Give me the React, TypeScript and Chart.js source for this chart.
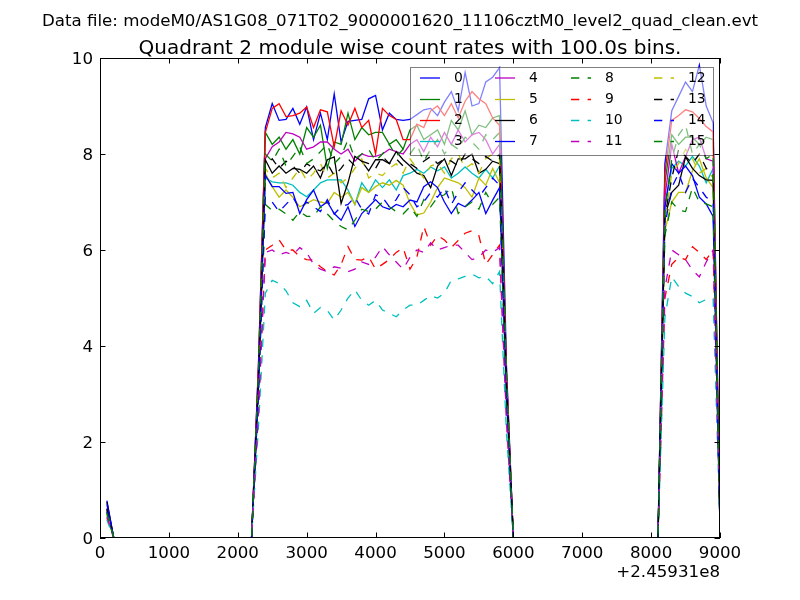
import React, { useEffect, useRef } from "react";
import { Chart, registerables } from "chart.js";

Chart.register(...registerables);

const SUPTITLE = "Data file: modeM0/AS1G08_071T02_9000001620_11106cztM0_level2_quad_clean.evt";
const TITLE = "Quadrant 2 module wise count rates with 100.0s bins.";
const OFFSET_TEXT = "+2.45931e8";

// bin times (s), relative to offset 2.45931e8
const timeBins = [
  100, 200, 300, 400, 500, 600, 700, 800, 900, 1000,
  1100, 1200, 1300, 1400, 1500, 1600, 1700, 1800, 1900, 2000,
  2100, 2200, 2300, 2400, 2500, 2600, 2700, 2800, 2900, 3000,
  3100, 3200, 3300, 3400, 3500, 3600, 3700, 3800, 3900, 4000,
  4100, 4200, 4300, 4400, 4500, 4600, 4700, 4800, 4900, 5000,
  5100, 5200, 5300, 5400, 5500, 5600, 5700, 5800, 5900, 6000,
  6100, 6200, 6300, 6400, 6500, 6600, 6700, 6800, 6900, 7000,
  7100, 7200, 7300, 7400, 7500, 7600, 7700, 7800, 7900, 8000,
  8100, 8200, 8300, 8400, 8500, 8600, 8700, 8800, 8900, 9000,
];

const moduleLabels = ["0", "1", "2", "3", "4", "5", "6", "7", "8", "9", "10", "11", "12", "13", "14", "15"];

const module0 = [0.78, 0,0,0,0,0,0,0, 0,0,0,0,0,0,0, 0,0,0,0,0,0,0, 3.6,
  8.55, 9.05, 8.7, 8.72, 8.95, 8.62, 8.98, 8.3, 8.85, 8.3, 9.25, 8.25, 8.68, 8.7, 8.72, 9.15, 9.22, 8.5, 8.85, 8.72, 8.7, 8.72, 8.82, 8.92, 8.95, 8.8, 9.08, 9.3, 8.9, 9.7, 9.0, 9.05, 9.5, 9.6, 9.8,
  3.6, 0,0,0,0,0,0,0, 0,0,0,0,0,0,0, 0,0,0,0,0,0,0, 0,
  7.8, 8.9, 9.2, 9.5, 9.3, 9.85, 9.0, 8.65, 0.3];
const module1 = [0.6, 0,0,0,0,0,0,0, 0,0,0,0,0,0,0, 0,0,0,0,0,0,0, 3.5,
  8.45, 8.2, 8.35, 8.1, 8.3, 8.0, 8.55, 8.35, 8.6, 7.7, 8.25, 8.2, 8.85, 8.3, 8.55, 8.4, 8.45, 8.45, 8.2, 8.3, 8.1, 8.5, 8.6, 8.3, 8.4, 8.5, 8.2, 8.7, 8.5, 8.9, 8.4, 8.6, 8.55, 8.75, 8.8,
  3.4, 0,0,0,0,0,0,0, 0,0,0,0,0,0,0, 0,0,0,0,0,0,0, 0,
  7.4, 8.4, 8.2, 8.35, 8.35, 8.2, 8.35, 8.3, 0.25];
const module2 = [0.55, 0,0,0,0,0,0,0, 0,0,0,0,0,0,0, 0,0,0,0,0,0,0, 3.6,
  8.45, 8.95, 9.05, 8.78, 8.8, 8.85, 8.98, 8.55, 8.92, 8.88, 8.15, 8.9, 8.6, 8.95, 8.55, 8.7, 8.0, 8.95, 8.8, 8.72, 8.3, 8.3, 8.62, 8.55, 8.9, 9.0, 8.8, 9.05, 8.75, 9.1, 9.3, 9.15, 9.05, 8.75, 8.6,
  3.5, 0,0,0,0,0,0,0, 0,0,0,0,0,0,0, 0,0,0,0,0,0,0, 0,
  7.6, 8.7, 8.8, 8.92, 8.88, 8.74, 8.57, 8.46, 0.35];
const module3 = [0.5, 0,0,0,0,0,0,0, 0,0,0,0,0,0,0, 0,0,0,0,0,0,0, 3.2,
  7.5, 7.42, 7.4, 7.4, 7.35, 7.2, 7.11, 7.25, 7.4, 7.46, 7.46, 7.46, 7.25, 6.95, 7.4, 7.2, 7.46, 7.3, 7.46, 7.25, 7.55, 7.6, 7.68, 7.6, 7.73, 7.65, 7.73, 7.5, 7.6, 7.73, 7.6, 7.5, 7.68, 7.5, 7.75,
  3.1, 0,0,0,0,0,0,0, 0,0,0,0,0,0,0, 0,0,0,0,0,0,0, 0,
  6.9, 7.7, 7.85, 7.75, 7.95, 7.75, 7.4, 7.7, 0.2];
const module4 = [0.62, 0,0,0,0,0,0,0, 0,0,0,0,0,0,0, 0,0,0,0,0,0,0, 3.4,
  7.9, 8.15, 8.25, 8.45, 8.42, 8.35, 8.1, 8.15, 8.25, 8.25, 8.1, 8.0, 8.1, 7.85, 8.0, 7.95, 7.95, 8.0, 8.1, 8.05, 8.0, 8.2, 8.3, 8.05, 8.35, 8.15, 8.45, 8.2, 8.5, 8.25, 8.4, 8.45, 8.3, 8.0, 8.2,
  3.4, 0,0,0,0,0,0,0, 0,0,0,0,0,0,0, 0,0,0,0,0,0,0, 0,
  7.1, 8.2, 7.6, 7.95, 8.3, 8.35, 7.9, 7.85, 0.3];
const module5 = [0.5, 0,0,0,0,0,0,0, 0,0,0,0,0,0,0, 0,0,0,0,0,0,0, 3.1,
  7.6, 7.32, 7.1, 7.25, 7.1, 6.9, 6.97, 7.05, 7.0, 6.97, 7.2, 7.1, 7.2, 6.95, 7.3, 7.2, 7.32, 7.4, 7.35, 7.45, 7.35, 6.97, 6.73, 6.77, 7.0, 7.3, 7.5, 7.45, 7.4, 7.3, 7.1, 7.5, 7.35, 7.7, 7.4,
  3.0, 0,0,0,0,0,0,0, 0,0,0,0,0,0,0, 0,0,0,0,0,0,0, 0,
  6.4, 7.0, 7.2, 7.2, 7.65, 7.9, 7.5, 7.3, 0.2];
const module6 = [0.75, 0,0,0,0,0,0,0, 0,0,0,0,0,0,0, 0,0,0,0,0,0,0, 3.3,
  7.88, 7.6, 7.75, 7.6, 7.7, 7.68, 7.6, 7.75, 7.5, 7.88, 7.94, 6.97, 7.4, 7.95, 7.85, 7.65, 7.88, 7.88, 7.8, 8.05, 7.88, 7.75, 7.6, 7.55, 7.3, 7.75, 7.9, 7.55, 7.9, 7.9, 8.0, 7.6, 7.68, 7.85, 7.8,
  3.2, 0,0,0,0,0,0,0, 0,0,0,0,0,0,0, 0,0,0,0,0,0,0, 0,
  6.7, 7.2, 7.35, 7.94, 7.7, 7.55, 7.46, 7.45, 0.25];
const module7 = [0.7, 0,0,0,0,0,0,0, 0,0,0,0,0,0,0, 0,0,0,0,0,0,0, 3.2,
  7.56, 7.32, 7.32, 7.18, 7.2, 6.76, 7.05, 7.25, 6.9, 7.0, 6.76, 6.62, 6.9, 6.49, 6.76, 6.9, 7.05, 6.9, 6.85, 6.95, 6.9, 7.04, 7.0, 7.32, 7.42, 7.3, 7.0, 6.76, 6.97, 6.9, 7.04, 7.2, 6.76, 7.04, 7.3,
  3.0, 0,0,0,0,0,0,0, 0,0,0,0,0,0,0, 0,0,0,0,0,0,0, 0,
  6.9, 7.8, 7.6, 7.75, 7.55, 7.1, 6.96, 6.7, 0.2];
const module8 = [0.55, 0,0,0,0,0,0,0, 0,0,0,0,0,0,0, 0,0,0,0,0,0,0, 3.0,
  6.95, 6.82, 6.85, 6.75, 6.62, 6.8, 6.7, 6.7, 6.9, 6.75, 6.6, 6.49, 6.42, 6.62, 6.85, 6.8, 6.85, 7.0, 6.9, 6.8, 6.75, 6.9, 6.7, 7.05, 6.9, 7.1, 7.15, 7.3, 6.76, 6.9, 7.0, 6.85, 7.2, 6.95, 7.1,
  2.9, 0,0,0,0,0,0,0, 0,0,0,0,0,0,0, 0,0,0,0,0,0,0, 0,
  6.3, 7.0, 6.83, 6.8, 7.3, 7.0, 6.96, 6.9, 0.2];
const module9 = [0.42, 0,0,0,0,0,0,0, 0,0,0,0,0,0,0, 0,0,0,0,0,0,0, 2.6,
  6.0, 6.1, 6.21, 6.0, 6.0, 5.86, 5.8, 5.79, 5.65, 5.55, 5.48, 5.7, 6.07, 5.8, 5.79, 5.86, 5.6, 5.7, 5.8, 5.95, 6.05, 5.6, 5.85, 6.49, 6.1, 6.3, 6.21, 6.05, 6.2, 6.35, 6.4, 6.3, 5.7, 5.9, 6.1,
  2.5, 0,0,0,0,0,0,0, 0,0,0,0,0,0,0, 0,0,0,0,0,0,0, 0,
  5.0, 5.7, 5.85, 5.8, 6.07, 5.95, 5.8, 6.0, 0.45];
const module10 = [0.38, 0,0,0,0,0,0,0, 0,0,0,0,0,0,0, 0,0,0,0,0,0,0, 2.3,
  5.1, 5.37, 5.3, 5.15, 4.9, 4.82, 4.95, 4.68, 4.8, 4.74, 4.54, 4.75, 5.0, 5.17, 4.95, 4.85, 4.95, 4.75, 4.68, 4.61, 4.75, 4.85, 4.85, 4.95, 5.05, 5.0, 5.1, 5.37, 5.4, 5.45, 5.5, 5.42, 5.45, 5.3, 5.55,
  2.2, 0,0,0,0,0,0,0, 0,0,0,0,0,0,0, 0,0,0,0,0,0,0, 0,
  4.6, 5.44, 5.24, 5.1, 5.03, 4.9, 4.97, 4.99, 0.25];
const module11 = [0.45, 0,0,0,0,0,0,0, 0,0,0,0,0,0,0, 0,0,0,0,0,0,0, 2.6,
  5.95, 6.0, 5.9, 5.95, 5.9, 6.05, 5.95, 5.7, 5.6, 5.55, 5.65, 5.62, 5.55, 5.6, 5.75, 5.7, 5.85, 6.07, 5.9, 5.75, 5.6, 5.85, 6.0, 5.95, 6.15, 6.0, 6.05, 6.1, 6.1, 5.95, 5.8, 5.85, 6.0, 5.95, 6.05,
  2.5, 0,0,0,0,0,0,0, 0,0,0,0,0,0,0, 0,0,0,0,0,0,0, 0,
  5.2, 6.0, 5.9, 5.8, 5.58, 5.44, 5.75, 6.0, 0.4];
const module12 = [0.55, 0,0,0,0,0,0,0, 0,0,0,0,0,0,0, 0,0,0,0,0,0,0, 3.3,
  7.7, 7.5, 7.6, 7.3, 7.5, 7.7, 7.45, 7.6, 7.8, 7.5, 7.6, 7.4, 7.5, 7.7, 7.9, 7.5, 7.6, 7.55, 7.7, 7.8, 7.6, 7.9, 7.7, 7.5, 7.75, 7.8, 7.6, 7.9, 8.0, 7.7, 7.8, 7.6, 7.9, 8.0, 7.9,
  3.2, 0,0,0,0,0,0,0, 0,0,0,0,0,0,0, 0,0,0,0,0,0,0, 0,
  6.6, 7.6, 7.8, 8.1, 7.9, 7.6, 7.7, 7.5, 0.2];
const module13 = [0.6, 0,0,0,0,0,0,0, 0,0,0,0,0,0,0, 0,0,0,0,0,0,0, 3.3,
  7.75, 7.9, 7.7, 7.85, 7.75, 7.6, 7.8, 7.7, 7.65, 7.8, 7.55, 7.7, 7.9, 7.75, 7.85, 7.8, 7.7, 7.95, 7.8, 7.9, 7.75, 7.8, 7.7, 7.85, 7.95, 7.8, 7.9, 7.85, 7.75, 8.0, 7.9, 7.8, 7.95, 7.85, 8.0,
  3.2, 0,0,0,0,0,0,0, 0,0,0,0,0,0,0, 0,0,0,0,0,0,0, 0,
  6.7, 7.5, 8.1, 7.95, 7.8, 8.0, 7.7, 7.6, 0.2];
const module14 = [0.55, 0,0,0,0,0,0,0, 0,0,0,0,0,0,0, 0,0,0,0,0,0,0, 3.0,
  7.1, 7.0, 6.8, 6.95, 7.1, 6.85, 7.0, 6.9, 6.8, 7.05, 6.75, 6.9, 6.95, 7.1, 6.85, 6.75, 7.15, 7.1, 6.9, 7.05, 7.3, 7.15, 6.9, 7.0, 7.2, 7.1, 7.3, 6.95, 7.2, 7.4, 7.25, 7.1, 7.3, 7.5, 7.35,
  3.0, 0,0,0,0,0,0,0, 0,0,0,0,0,0,0, 0,0,0,0,0,0,0, 0,
  6.5, 7.3, 7.6, 7.2, 7.5, 7.3, 7.1, 7.0, 0.2];
const module15 = [0.52, 0,0,0,0,0,0,0, 0,0,0,0,0,0,0, 0,0,0,0,0,0,0, 3.4,
  8.0, 7.85, 8.1, 7.75, 7.95, 8.15, 7.8, 7.9, 8.05, 8.2, 7.8, 7.95, 8.3, 7.9, 8.0, 8.1, 7.85, 8.0, 8.2, 7.95, 8.1, 8.0, 8.2, 7.85, 8.1, 8.3, 8.0, 8.2, 8.1, 8.35, 8.25, 8.1, 8.4, 8.3, 8.45,
  3.4, 0,0,0,0,0,0,0, 0,0,0,0,0,0,0, 0,0,0,0,0,0,0, 0,
  6.8, 7.9, 8.4, 8.6, 8.0, 8.2, 7.9, 8.0, 0.25];

const moduleSeries = [
  module0, module1, module2, module3, module4, module5, module6, module7,
  module8, module9, module10, module11, module12, module13, module14, module15,
];

const moduleColors = [
  "#0000ff", "#008000", "#ff0000", "#00bfbf", "#bf00bf", "#bfbf00", "#000000", "#0000ff",
  "#008000", "#ff0000", "#00bfbf", "#bf00bf", "#bfbf00", "#000000", "#0000ff", "#008000",
];

const DASH = [8.3, 8.3];
const FONT = "DejaVu Sans";

const mplPlugin = {
  id: "mplDecor",
  afterDatasetsDraw(chart: any) {
    const { ctx, chartArea: a, scales } = chart;
    const xs = scales.x;
    const ys = scales.y;
    ctx.save();
    // frame
    ctx.strokeStyle = "#000";
    ctx.lineWidth = 1;
    ctx.setLineDash([]);
    ctx.strokeRect(Math.round(a.left) + 0.5, Math.round(a.top) + 0.5, Math.round(a.right - a.left) - 1, Math.round(a.bottom - a.top) - 1);
    // inward ticks on all sides
    const TL = 5.5;
    ctx.beginPath();
    xs.ticks.forEach((t: any) => {
      const px = Math.round(xs.getPixelForValue(t.value)) + 0.5;
      ctx.moveTo(px, a.bottom);
      ctx.lineTo(px, a.bottom - TL);
      ctx.moveTo(px, a.top);
      ctx.lineTo(px, a.top + TL);
    });
    ys.ticks.forEach((t: any) => {
      const py = Math.round(ys.getPixelForValue(t.value)) + 0.5;
      ctx.moveTo(a.left, py);
      ctx.lineTo(a.left + TL, py);
      ctx.moveTo(a.right, py);
      ctx.lineTo(a.right - TL, py);
    });
    ctx.stroke();

    // legend (4 columns, column-major)
    const bx = 410, by = 67, bw = 303, bh = 88;
    ctx.fillStyle = "rgba(255,255,255,0.5)";
    ctx.fillRect(bx, by, bw, bh);
    ctx.strokeStyle = "rgba(0,0,0,0.5)";
    ctx.strokeRect(bx + 0.5, by + 0.5, bw, bh);
    const colX = [420, 495, 571, 654];
    const rowY = [78, 99.5, 120.5, 141.5];
    ctx.font = `13.9px ${FONT}`;
    ctx.textBaseline = "middle";
    ctx.textAlign = "left";
    chart.data.datasets.forEach((ds: any, i: number) => {
      const cx = colX[Math.floor(i / 4)];
      const cy = rowY[i % 4];
      ctx.strokeStyle = ds.borderColor;
      ctx.lineWidth = ds.borderWidth;
      ctx.setLineDash(ds.borderDash || []);
      ctx.beginPath();
      ctx.moveTo(cx, cy);
      ctx.lineTo(cx + 20, cy);
      ctx.stroke();
      ctx.setLineDash([]);
      ctx.fillStyle = "#000";
      ctx.fillText(ds.label, cx + 34, cy);
    });
    ctx.restore();
  },
  afterDraw(chart: any) {
    const { ctx, chartArea: a } = chart;
    ctx.save();
    ctx.fillStyle = "#000";
    ctx.textBaseline = "alphabetic";
    ctx.textAlign = "center";
    ctx.font = `16.67px ${FONT}`;
    ctx.fillText(SUPTITLE, 400, 25.5);
    ctx.font = `20px ${FONT}`;
    ctx.fillText(TITLE, (a.left + a.right) / 2, 54);
    ctx.textAlign = "right";
    ctx.font = `16.67px ${FONT}`;
    ctx.fillText(OFFSET_TEXT, a.right, 577);
    ctx.restore();
  },
};

export default function App() {
  const canvasRef = useRef<HTMLCanvasElement | null>(null);

  useEffect(() => {
    const canvas = canvasRef.current;
    if (!canvas) return;
    const datasets = moduleSeries.map((series, i) => ({
      label: moduleLabels[i],
      data: timeBins.map((x, j) => ({ x, y: series[j] })),
      borderColor: moduleColors[i],
      backgroundColor: moduleColors[i],
      borderWidth: 1.3,
      borderDash: i >= 8 ? DASH : [],
      pointRadius: 0,
      fill: false,
      tension: 0,
      order: 15 - i,
    }));
    const tickFont = { family: FONT, size: 16.67 };
    const chart = new Chart(canvas, {
      type: "line",
      data: { datasets },
      options: {
        responsive: false,
        animation: false,
        devicePixelRatio: 1,
        layout: { padding: { top: 58, right: 80, left: 0, bottom: 0 } },
        plugins: {
          legend: { display: false },
          tooltip: { enabled: false },
          title: { display: false },
        },
        scales: {
          x: {
            type: "linear",
            min: 0,
            max: 9000,
            ticks: {
              stepSize: 1000,
              color: "#000",
              font: tickFont,
              padding: 6,
              maxRotation: 0,
              autoSkip: false,
              callback: (v: any) => String(v),
            },
            grid: { display: false, drawTicks: false },
            border: { display: false },
            afterFit: (s: any) => {
              s.height = 62;
            },
          },
          y: {
            type: "linear",
            min: 0,
            max: 10,
            ticks: {
              stepSize: 2,
              color: "#000",
              font: tickFont,
              padding: 7,
              labelOffset: 1.5,
              callback: (v: any) => String(v),
            },
            grid: { display: false, drawTicks: false },
            border: { display: false },
            afterFit: (s: any) => {
              s.width = 100;
            },
          },
        },
      } as any,
      plugins: [mplPlugin],
    });
    return () => chart.destroy();
  }, []);

  return (
    <div style={{ position: "fixed", left: 0, top: 0, width: 800, height: 600, background: "#fff" }}>
      <canvas ref={canvasRef} width={800} height={600} style={{ width: 800, height: 600, display: "block" }} />
    </div>
  );
}
